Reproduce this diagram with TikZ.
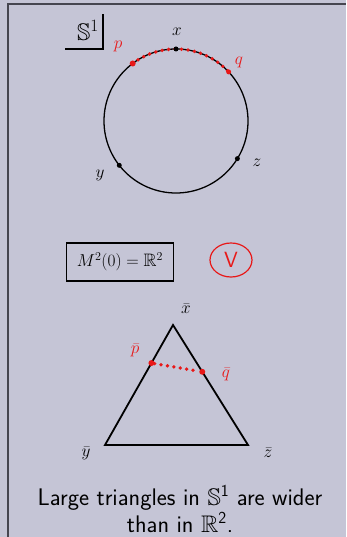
\documentclass[tikz,border=0pt]{standalone}
\usepackage{amsmath,amssymb}
\usepackage{tikz}
\usetikzlibrary{calc,positioning,shapes.geometric}
\definecolor{slidebg}{RGB}{197,197,214}
\definecolor{framegray}{RGB}{70,70,80}
\definecolor{inkred}{RGB}{232,24,24}

\begin{document}
\begin{tikzpicture}[x=1pt,y=-1pt,
  hand/.style={font=\fontsize{18}{18}\selectfont},
  ptblack/.style={circle,fill=black,inner sep=0pt,minimum size=5pt},
  ptred/.style={circle,fill=inkred,inner sep=0pt,minimum size=6pt},
  reddots/.style={inkred,line width=3.8pt,line cap=round,dash pattern=on 0pt off 6.5pt}]
  \useasboundingbox (0,0) rectangle (346,537);
  \fill[slidebg] (0,0) rectangle (346,537);
  \draw[framegray,line width=1.5pt] (8,537) -- (8,4) -- (346,4);

  % the circle S^1
  \node[font=\fontsize{24}{24}\selectfont] (sone) at (88,30) {$\mathbb{S}^1$};
  \coordinate (corner) at (103,49);
  \draw[line width=1.1pt] (65,49) -- (corner) -- (103,14);
  \coordinate (o) at (176,121);
  \draw[line width=1.3pt] (o) circle (72);
  \coordinate (p) at ([shift={(-127:72)}]o);
  \coordinate (q) at ([shift={(-43:72)}]o);
  \draw[reddots] (p) arc[start angle=-127, end angle=-43, radius=72];
  \node[ptred] (pdot) at (p) {};
  \node[ptred,minimum size=5pt] (qdot) at (q) {};
  \node[ptblack] (xdot) at ([shift={(-90:72)}]o) {};
  \node[ptblack] (ydot) at ([shift={(142:72)}]o) {};
  \node[ptblack] (zdot) at ([shift={(31.5:72)}]o) {};
  \node[hand] (xlab) at (177,32) {$x$};
  \node[hand,text=inkred] (plab) at (118,46) {$p$};
  \node[hand,text=inkred] (qlab) at (239,62) {$q$};
  \node[hand] (ylab) at (100,175) {$y$};
  \node[hand] (zlab) at (257,163) {$z$};

  % the plane
  \node[draw,line width=1.2pt,minimum width=107pt,minimum height=38pt,hand] (chart) at (120,262) {$M^2(0)=\mathbb{R}^2$};
  \node[draw=inkred,line width=1.2pt,ellipse,minimum width=42pt,minimum height=34pt,
    text=inkred,font=\sffamily\fontsize{22}{22}\selectfont] (check) at (231,260) {V};

  \coordinate (X) at (173,325);
  \coordinate (Y) at (105,445);
  \coordinate (Z) at (248,445);
  \draw[line width=1.8pt] (X) -- (Y) -- (Z) -- cycle;
  \node[ptred] (pbar) at ($(X)!0.317!(Y)$) {};
  \node[ptred] (qbar) at ($(X)!0.39!(Z)$) {};
  \draw[reddots] (pbar) -- (qbar);
  \node[hand] (xbarlab) at (186,309) {$\bar x$};
  \node[hand,text=inkred,inner sep=1pt] (pbarlab) at (135,350) {$\bar p$};
  \node[hand,text=inkred,inner sep=1pt] (qbarlab) at (226,374) {$\bar q$};
  \node[hand] (ybarlab) at (86,453) {$\bar y$};
  \node[hand] (zbarlab) at (268,453) {$\bar z$};

  \node[font=\sffamily\fontsize{24}{23}\selectfont,align=center] (caption) at (180,509)
    {Large triangles in $\mathbb{S}^{\textsf{1}}$ are wider\\than in $\mathbb{R}^{\textsf{2}}$.};
\end{tikzpicture}
\end{document}
